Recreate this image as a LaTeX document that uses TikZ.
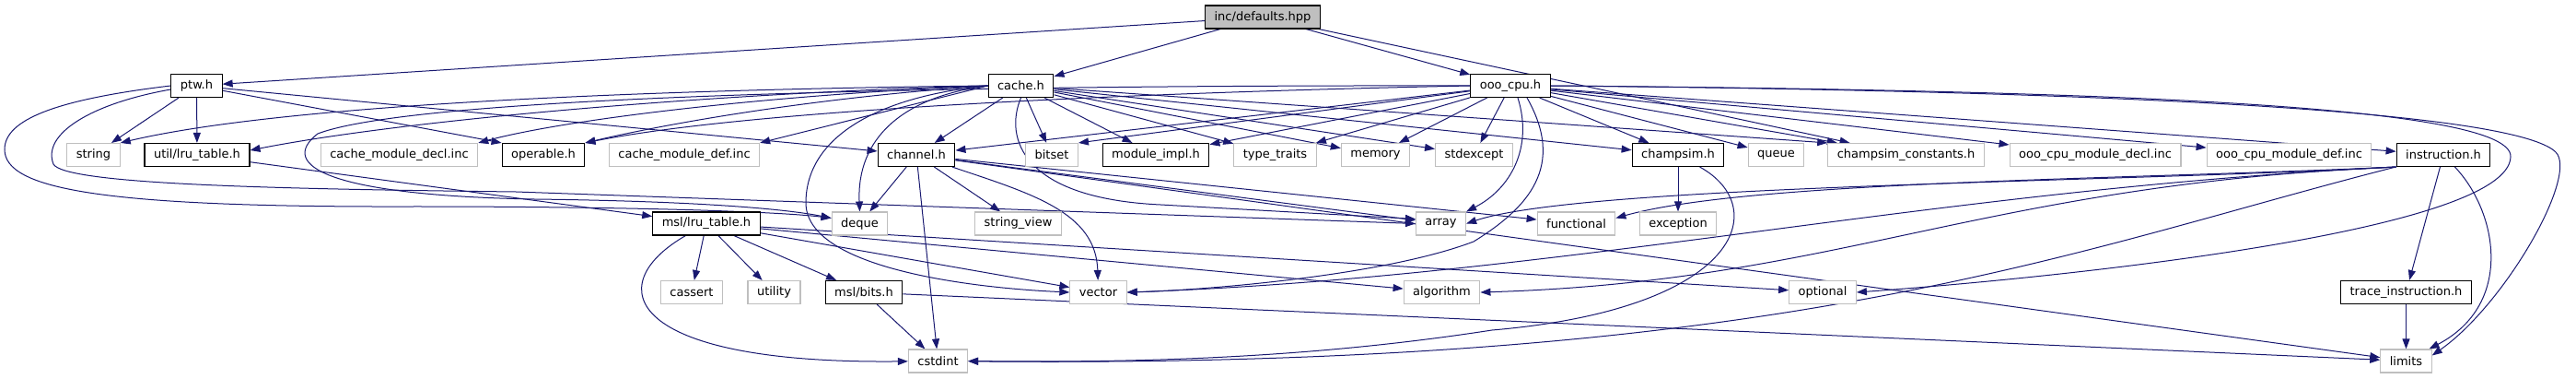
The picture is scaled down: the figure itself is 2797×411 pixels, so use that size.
\documentclass[tikz,border=0pt]{standalone}
\usepackage{fontspec}
\setmainfont{DejaVu Sans}
\usetikzlibrary{arrows.meta,backgrounds}
\definecolor{edgeblue}{RGB}{25,25,112}
\definecolor{sysgray}{RGB}{191,191,191}

\begin{document}
\begin{tikzpicture}[
    x=1pt, y=-1pt,
    hdr/.style={draw=black, fill=white, line width=1.1pt, minimum height=25pt, inner xsep=10pt, inner ysep=0pt, font=\fontsize{13}{15}\selectfont},
    sys/.style={hdr, draw=sysgray},
    root/.style={hdr, fill=sysgray},
    dep/.style={-{Triangle[length=11pt,width=8pt]}, line width=1pt, draw=edgeblue}
]
\useasboundingbox (0,0) rectangle (2797,411);

\node[root] (def) at (1371,18.5) {inc/defaults.hpp};
\node[hdr] (ptw) at (213.5,93) {ptw.h};
\node[hdr] (cache) at (1108.5,93) {cache.h};
\node[hdr] (ooo) at (1640,93) {ooo\_cpu.h};

\node[sys] (string) at (101.5,168) {string};
\node[hdr] (ulru) at (214,168) {util/lru\_table.h};
\node[sys] (cdecl) at (433.5,168) {cache\_module\_decl.inc};
\node[hdr] (operable) at (590,168) {operable.h};
\node[sys] (cdef) at (743,168) {cache\_module\_def.inc};
\node[hdr] (channel) at (995,168) {channel.h};
\node[sys] (bitset) at (1142,168) {bitset};
\node[hdr] (modimpl) at (1255,168) {module\_impl.h};
\node[sys] (typetr) at (1384.5,168) {type\_traits};
\node[sys] (memory) at (1493.5,168) {memory};
\node[sys] (stdexc) at (1600.5,168) {stdexcept};
\node[hdr] (champsim) at (1822,168) {champsim.h};
\node[sys] (queue) at (1928.5,168) {queue};
\node[sys] (cconst) at (2069.5,168) {champsim\_constants.h};
\node[sys] (odecl) at (2275,168) {ooo\_cpu\_module\_decl.inc};
\node[sys] (odef) at (2485.5,168) {ooo\_cpu\_module\_def.inc};
\node[hdr] (instr) at (2653,168) {instruction.h};

\node[hdr] (mlru) at (767,242.5) {msl/lru\_table.h};
\node[sys] (deque) at (933.5,242.5) {deque};
\node[sys] (strview) at (1105.5,242.5) {string\_view};
\node[sys] (array) at (1564.5,242.5) {array};
\node[sys] (functional) at (1711.5,242.5) {functional};
\node[sys] (exception) at (1822,242.5) {exception};

\node[sys] (cassert) at (751,317) {cassert};
\node[sys] (utility) at (840.5,317) {utility};
\node[hdr] (bits) at (938,317) {msl/bits.h};
\node[sys] (vector) at (1192.5,317) {vector};
\node[sys] (algorithm) at (1565.5,317) {algorithm};
\node[sys] (optional) at (1979,317) {optional};
\node[hdr] (trace) at (2612.5,317) {trace\_instruction.h};

\node[sys] (cstdint) at (1018.5,391.5) {cstdint};
\node[sys] (limits) at (2612.5,391.5) {limits};

\begin{scope}[on background layer]
\draw[dep] (def) -- (ptw);
\draw[dep] (def) -- (cache);
\draw[dep] (def) -- (ooo);
\draw[dep] (def) -- (cconst);

\draw[dep] (ptw) -- (string);
\draw[dep] (ptw) -- (ulru);
\draw[dep] (ptw) -- (operable.north west);
\draw[dep] (ptw) -- (channel);
\draw[dep] (ptw.west) .. controls (60,108) and (5,130) .. (5,162) .. controls (5,205) and (110,225) .. (450,224) .. controls (700,224) and (850,230) .. ([yshift=6pt]deque.west);
\draw[dep] ([yshift=-4pt]ptw.west) .. controls (100,112) and (45,145) .. (58,178) .. controls (70,200) and (300,205) .. (560,208) -- (array.west);

\draw[dep] (cache.west) .. controls (800,96) and (330,108) .. (string.north east);
\draw[dep] (cache.west) .. controls (800,100) and (450,128) .. ([yshift=5pt]ulru.east);
\draw[dep] (cache.west) .. controls (850,102) and (620,128) .. (cdecl.north east);
\draw[dep] (cache.west) .. controls (880,106) and (720,135) .. (operable.north east);
\draw[dep] (cache.west) -- (cdef.north east);
\draw[dep] (cache) -- (channel);
\draw[dep] (cache.west) .. controls (980,105) and (930,150) .. (deque.north);
\draw[dep] (cache.west) .. controls (950,105) and (875,150) .. (875,220) .. controls (875,290) and (1050,312) .. (vector.west);
\draw[dep] (cache.south) .. controls (1090,150) and (1110,215) .. (1260,222) -- ([yshift=5pt]array.west);
\draw[dep] (cache) -- (bitset);
\draw[dep] (cache) -- (modimpl);
\draw[dep] (cache) -- (typetr);
\draw[dep] (cache) -- (memory);
\draw[dep] (cache) -- (stdexc);
\draw[dep] (cache) -- (champsim);
\draw[dep] (cache) -- (cconst.north west);

\draw[dep] (ooo) -- (channel);
\draw[dep] (ooo.west) .. controls (1250,100) and (820,118) .. (operable.north east);
\draw[dep] (ooo) -- (bitset.north east);
\draw[dep] (ooo) -- (modimpl);
\draw[dep] (ooo) -- (typetr);
\draw[dep] (ooo) -- (memory);
\draw[dep] (ooo) -- (stdexc);
\draw[dep] (ooo) -- (champsim);
\draw[dep] (ooo) -- (queue);
\draw[dep] (ooo) -- (cconst);
\draw[dep] (ooo) -- (odecl);
\draw[dep] (ooo) -- (odef);
\draw[dep] (ooo) -- (instr);
\draw[dep] (ooo.west) .. controls (1000,92) and (450,105) .. (345,145) .. controls (300,180) and (360,212) .. (580,216) .. controls (750,218) and (850,226) .. ([yshift=6pt]deque.west);
\draw[dep] ([xshift=8pt]ooo.south) .. controls (1665,160) and (1640,205) .. (array.north east);
\draw[dep] ([xshift=18pt]ooo.south) .. controls (1700,180) and (1660,225) .. (1600,262) .. controls (1500,300) and (1300,315) .. (vector.east);
\draw[dep] (ooo.east) .. controls (2300,98) and (2728,115) .. (2726,170) .. controls (2724,250) and (2250,300) .. (optional.east);
\draw[dep] (ooo.east) .. controls (2450,100) and (2740,130) .. (2775,165) .. controls (2800,190) and (2720,330) .. ([yshift=6pt]limits.east);

\draw[dep] (ulru) -- (mlru);

\draw[dep] (channel) -- (deque);
\draw[dep] (channel) -- (strview);
\draw[dep] (channel) -- (cstdint);
\draw[dep] (channel) .. controls (1120,210) and (1190,230) .. (vector);
\draw[dep] (channel) -- (array);
\draw[dep] (channel) -- (functional);
\draw[dep] (channel) -- (limits);

\draw[dep] (champsim) -- (exception);
\draw[dep] (champsim) .. controls (1925,225) and (1890,335) .. (1620,358) .. controls (1400,392) and (1200,393) .. (cstdint.east);

\draw[dep] (instr) -- (trace);
\draw[dep] (instr) .. controls (2712,230) and (2730,330) .. (limits);
\draw[dep] (instr.south west) .. controls (2300,198) and (1720,200) .. (array.east);
\draw[dep] (instr.south west) .. controls (2300,195) and (1900,196) .. ([yshift=6pt]functional.east);
\draw[dep] (instr.south west) .. controls (2100,205) and (1700,300) .. (vector.east);
\draw[dep] (instr.south west) .. controls (2150,200) and (2000,305) .. (algorithm.east);
\draw[dep] (instr) .. controls (2250,270) and (1950,400) .. (cstdint);

\draw[dep] (trace) -- (limits);

\draw[dep] (mlru) -- (cassert);
\draw[dep] (mlru) -- (utility);
\draw[dep] (mlru) -- (bits);
\draw[dep] (mlru) .. controls (650,310) and (680,395) .. (cstdint);
\draw[dep] (mlru) -- (vector);
\draw[dep] (mlru) -- (algorithm);
\draw[dep] (mlru) -- (optional);

\draw[dep] (bits) -- (cstdint);
\draw[dep] (bits) -- (limits);
\end{scope}
\end{tikzpicture}
\end{document}
